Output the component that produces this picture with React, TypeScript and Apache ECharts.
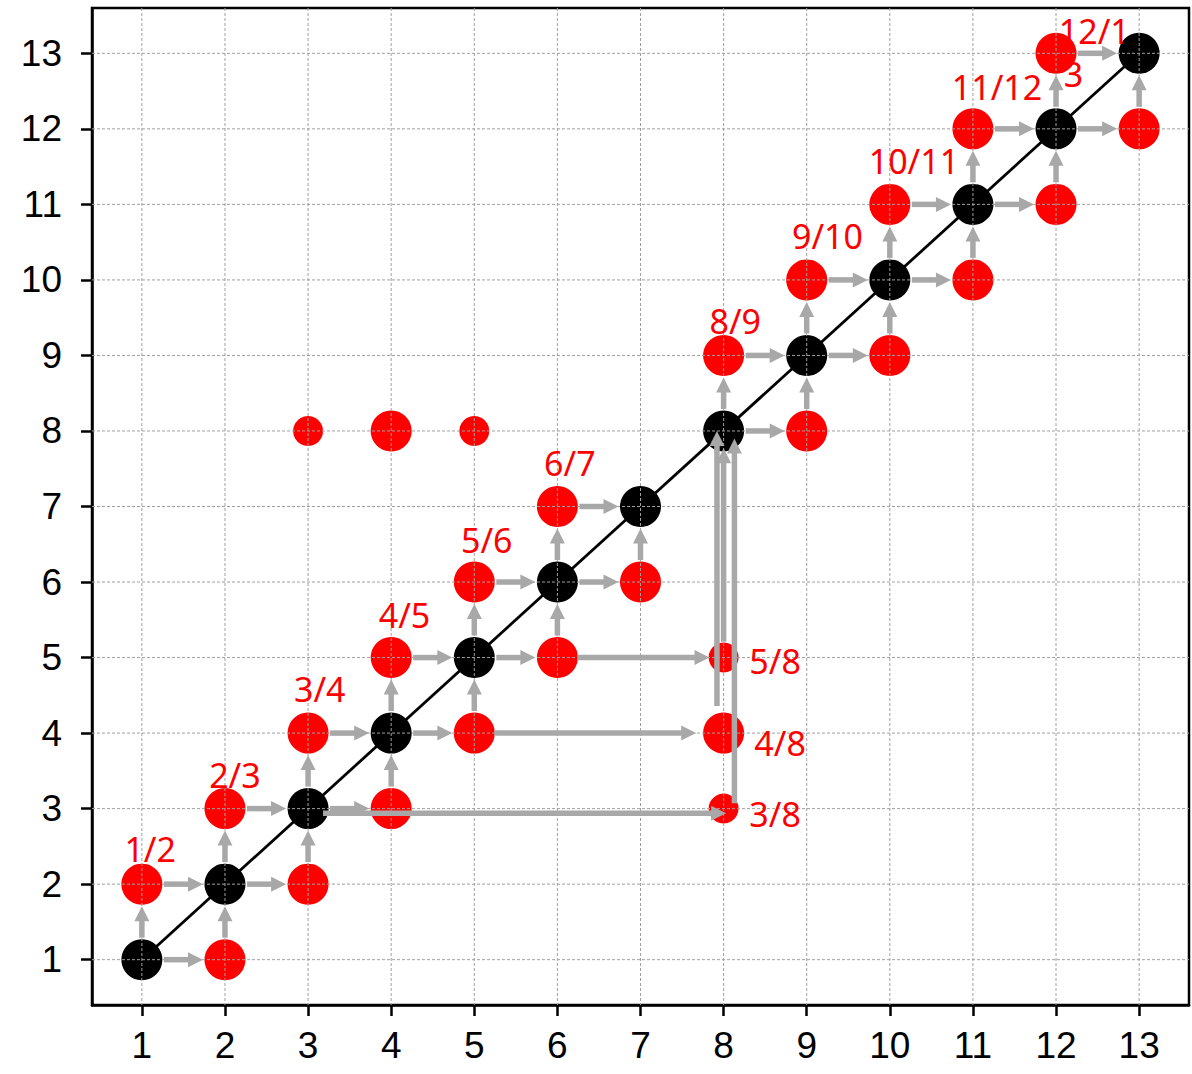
import React, { useEffect, useRef } from "react";
import * as echarts from "echarts";

// Tick values on both axes
const ticks = [1, 2, 3, 4, 5, 6, 7, 8, 9, 10, 11, 12, 13];

// Black nodes on the diagonal (x = y)
const blackNodes: [number, number][] = [
  [1, 1], [2, 2], [3, 3], [4, 4], [5, 5], [6, 6], [7, 7],
  [8, 8], [9, 9], [10, 10], [11, 11], [12, 12], [13, 13],
];

// Large red nodes
const redNodes: [number, number][] = [
  [2, 1], [1, 2], [3, 2], [2, 3], [4, 3], [3, 4], [5, 4], [4, 5],
  [6, 5], [5, 6], [7, 6], [6, 7], [9, 8], [8, 9], [10, 9], [9, 10],
  [11, 10], [10, 11], [12, 11], [11, 12], [13, 12], [12, 13],
  [8, 4], [4, 8],
];

// Small red nodes
const smallNodes: [number, number][] = [
  [8, 3], [8, 5], [3, 8], [5, 8],
];

// Arrows between neighbouring nodes: [x1, y1, x2, y2]
const stepArrows: [number, number, number, number][] = [
  [1, 1, 2, 1], [1, 2, 2, 2], [2, 2, 3, 2], [2, 3, 3, 3], [3, 3, 4, 3],
  [3, 4, 4, 4], [4, 4, 5, 4], [4, 5, 5, 5], [5, 5, 6, 5], [5, 6, 6, 6],
  [6, 6, 7, 6], [6, 7, 7, 7], [8, 8, 9, 8], [8, 9, 9, 9], [9, 9, 10, 9],
  [9, 10, 10, 10], [10, 10, 11, 10], [10, 11, 11, 11], [11, 11, 12, 11],
  [11, 12, 12, 12], [12, 12, 13, 12], [12, 13, 13, 13],
  [1, 1, 1, 2], [2, 1, 2, 2], [2, 2, 2, 3], [3, 2, 3, 3], [3, 3, 3, 4],
  [4, 3, 4, 4], [4, 4, 4, 5], [5, 4, 5, 5], [5, 5, 5, 6], [6, 5, 6, 6],
  [6, 6, 6, 7], [7, 6, 7, 7], [8, 8, 8, 9], [9, 8, 9, 9], [9, 9, 9, 10],
  [10, 9, 10, 10], [10, 10, 10, 11], [11, 10, 11, 11], [11, 11, 11, 12],
  [12, 11, 12, 12], [12, 12, 12, 13], [13, 12, 13, 13],
];

// Long arrows, start point to tip: [x1, y1, x2, y2]
const longArrows: [number, number, number, number][] = [
  [6.24, 5, 7.83, 5],
  [5.24, 4, 7.67, 4],
  [3.18, 2.94, 8.03, 2.94],
  [7.92, 4.36, 7.92, 8.0],
  [8.0, 5.21, 8.0, 7.77],
  [8.13, 3.07, 8.13, 7.9],
];

// Red text labels (centre positions)
const labelTexts = ["1/2", "2/3", "3/4", "4/5", "5/6", "6/7", "8/9", "9/10", "10/11", "11/12", "12/1", "3", "5/8", "4/8", "3/8"];
const labelX = [1.1, 2.12, 3.14, 4.16, 5.15, 6.15, 8.14, 9.25, 10.29, 11.29, 12.46, 12.21, 8.62, 8.68, 8.62];
const labelY = [2.46, 3.45, 4.59, 5.57, 6.56, 7.57, 9.46, 10.58, 11.57, 12.56, 13.3, 12.72, 4.96, 3.87, 2.93];

const ARROW_COLOR = "#a8a8a8";

function makeArrowRenderer(shrinkA: number, shrinkB: number) {
  return (params: any, api: any) => {
    const p1 = api.coord([api.value(0), api.value(1)]);
    const p2 = api.coord([api.value(2), api.value(3)]);
    const dx = p2[0] - p1[0];
    const dy = p2[1] - p1[1];
    const len = Math.hypot(dx, dy) || 1;
    const ux = dx / len;
    const uy = dy / len;
    const sx = p1[0] + ux * shrinkA;
    const sy = p1[1] + uy * shrinkA;
    const tx = p2[0] - ux * shrinkB;
    const ty = p2[1] - uy * shrinkB;
    const headLen = 15;
    const hw = 7.5;
    const hx = tx - ux * headLen;
    const hy = ty - uy * headLen;
    const nx = -uy;
    const ny = ux;
    return {
      type: "group",
      children: [
        {
          type: "line",
          shape: { x1: sx, y1: sy, x2: hx + ux * 1, y2: hy + uy * 1 },
          style: { stroke: ARROW_COLOR, lineWidth: 5.5 },
        },
        {
          type: "polygon",
          shape: {
            points: [
              [tx, ty],
              [hx + nx * hw, hy + ny * hw],
              [hx - nx * hw, hy - ny * hw],
            ],
          },
          style: { fill: ARROW_COLOR },
        },
      ],
    };
  };
}

export default function App() {
  const ref = useRef<HTMLDivElement>(null);
  useEffect(() => {
    if (!ref.current) return;
    const chart = echarts.init(ref.current, null, { renderer: "svg" });
    const axisCommon = (margin: number) => ({
      type: "value",
      min: 0.4,
      max: 13.6,
      axisLine: { show: true, onZero: false, lineStyle: { color: "#000", width: 2.5 } },
      axisTick: {
        show: true,
        customValues: ticks,
        length: 11,
        lineStyle: { color: "#000", width: 2.5 },
      },
      axisLabel: {
        customValues: ticks,
        fontSize: 37,
        color: "#000",
        fontFamily: "Liberation Sans",
        margin,
      },
      splitLine: { show: false },
    });
    chart.setOption({
      animation: false,
      backgroundColor: "#fff",
      grid: {
        left: 92,
        right: 3,
        top: 8,
        bottom: 69,
        show: true,
        borderColor: "#000",
        borderWidth: 2.5,
        backgroundColor: "transparent",
        containLabel: false,
        outerBoundsMode: "none",
      },
      xAxis: { ...axisCommon(22) },
      yAxis: { ...axisCommon(30) },
      series: [
        {
          type: "line",
          data: [blackNodes[0], blackNodes[blackNodes.length - 1]],
          symbol: "none",
          lineStyle: { color: "#000", width: 2.8 },
          z: 1,
          silent: true,
        },
        {
          type: "scatter",
          data: redNodes,
          symbolSize: 41,
          itemStyle: { color: "#ff0000", opacity: 1 },
          z: 2,
        },
        {
          type: "scatter",
          data: smallNodes,
          symbolSize: 30,
          itemStyle: { color: "#ff0000", opacity: 1 },
          z: 2,
        },
        {
          type: "scatter",
          data: blackNodes,
          symbolSize: 41,
          itemStyle: { color: "#000", opacity: 1 },
          z: 2,
        },
        {
          type: "custom",
          data: ticks.map((t) => [t, t]),
          z: 3,
          silent: true,
          clip: false,
          renderItem: (params: any, api: any) => {
            const cs = params.coordSys;
            const p = api.coord([api.value(0), api.value(1)]);
            const style = { stroke: "#a0a0a0", lineWidth: 1, lineDash: [3, 2] };
            return {
              type: "group",
              children: [
                { type: "line", shape: { x1: p[0], y1: cs.y, x2: p[0], y2: cs.y + cs.height }, style },
                { type: "line", shape: { x1: cs.x, y1: p[1], x2: cs.x + cs.width, y2: p[1] }, style },
              ],
            };
          },
        },
        {
          type: "custom",
          data: stepArrows,
          encode: { x: [0, 2], y: [1, 3] },
          z: 4,
          silent: true,
          clip: false,
          renderItem: makeArrowRenderer(22, 22),
        },
        {
          type: "custom",
          data: longArrows,
          encode: { x: [0, 2], y: [1, 3] },
          z: 4,
          silent: true,
          clip: false,
          renderItem: makeArrowRenderer(0, 0),
        },
        {
          type: "custom",
          data: labelX.map((x, i) => [x, labelY[i]]),
          z: 5,
          silent: true,
          clip: false,
          renderItem: (params: any, api: any) => {
            const p = api.coord([api.value(0), api.value(1)]);
            return {
              type: "text",
              x: p[0],
              y: p[1],
              style: {
                text: labelTexts[params.dataIndex],
                fill: "#ff0000",
                fontSize: 34,
                fontFamily: "Noto Sans",
                align: "center",
                verticalAlign: "middle",
              },
            };
          },
        },
      ],
    });
    return () => chart.dispose();
  }, []);
  return (
    <div
      ref={ref}
      style={{ position: "fixed", left: 0, top: 0, width: 1192, height: 1074 }}
    />
  );
}
